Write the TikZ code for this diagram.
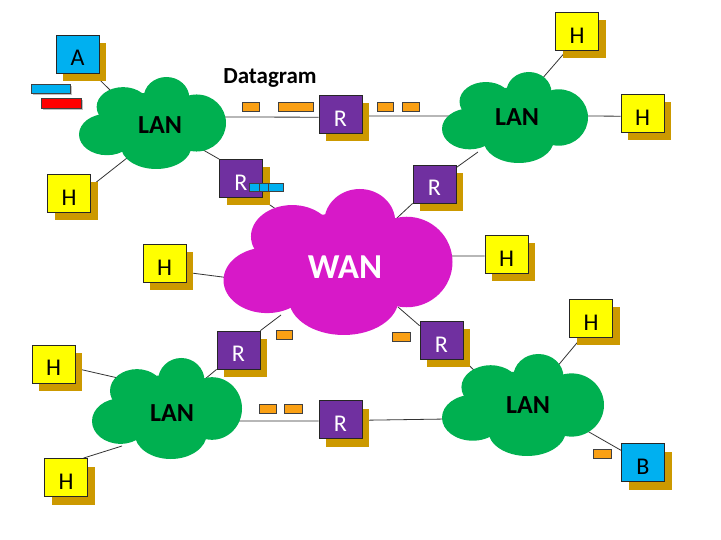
\documentclass[tikz,border=0pt]{standalone}
\usepackage{fontspec}
\setmainfont{Carlito}
\usetikzlibrary{shadows}
\definecolor{hyel}{RGB}{255,255,0}
\definecolor{hblue}{RGB}{0,176,240}
\definecolor{rpurp}{RGB}{112,48,160}
\definecolor{shad}{RGB}{204,153,0}
\definecolor{lang}{RGB}{0,176,80}
\definecolor{wanm}{RGB}{215,25,200}
\definecolor{pkto}{RGB}{250,160,20}
\pgfdeclarelayer{bg}
\pgfsetlayers{bg,main}
\newcommand\cloudfill[5]{%
  \begin{scope}[shift={(#1,#2)},xscale=#3,yscale=#4]
    \fill[#5] (0.19,-0.55) ellipse [x radius=0.31, y radius=0.45];
    \fill[#5] (-0.4,-0.35) ellipse [x radius=0.36, y radius=0.43];
    \fill[#5] (-0.62,0.25) ellipse [x radius=0.38, y radius=0.45];
    \fill[#5] (0.05,0.5) ellipse [x radius=0.48, y radius=0.5];
    \fill[#5] (0.6,0.0) ellipse [x radius=0.4, y radius=0.62];
    \fill[#5] (0.0,0.0) ellipse [x radius=0.72, y radius=0.66];
  \end{scope}}
\begin{document}
\begin{tikzpicture}[x=1pt,y=-1pt,
  box/.style={minimum width=43pt, minimum height=38pt, inner sep=0pt, draw=black!85, line width=0.8pt,
    font=\fontsize{24}{28}\selectfont, text height=24pt, text depth=0pt,
    drop shadow={shadow xshift=7pt, shadow yshift=-8pt, fill=shad, opacity=1}},
  hbox/.style={box, fill=hyel, text=black},
  abox/.style={box, fill=hblue, text=black},
  rbox/.style={box, fill=rpurp, text=white},
  cloudlabel/.style={font=\fontsize{26}{30}\selectfont\bfseries, text=black, inner sep=0pt},
  link/.style={draw=black!80, line width=0.8pt},
  pkt/.style={fill=pkto, draw=black!75, line width=0.6pt},
  bpkt/.style={fill=hblue, draw=black!75, line width=0.6pt},
  rpkt/.style={fill=red, draw=black!75, line width=0.6pt},
  pshadow/.style={fill=black!25}]
\useasboundingbox (0,0) rectangle (721,540);

% clouds
\cloudfill{152.5}{123}{73.5}{46}{lang}
\node[cloudlabel] (lan1) at (160,125) {LAN};
\cloudfill{515}{117.5}{73}{45.5}{lang}
\node[cloudlabel] (lan2) at (517,117) {LAN};
\cloudfill{338}{262}{114.5}{73}{wanm}
\node[cloudlabel, text=white, font=\fontsize{35}{40}\selectfont\bfseries] (wan) at (345,267) {WAN};
\cloudfill{167}{408.5}{75}{50.5}{lang}
\node[cloudlabel] (lan3) at (172,413) {LAN};
\cloudfill{523}{405}{81}{51}{lang}
\node[cloudlabel] (lan4) at (528,405) {LAN};

% boxes
\node[abox] (a) at (77.5,54) {A};
\node[hbox] (htl) at (69,193.5) {H};
\node[rbox] (rtop) at (340.5,114.5) {R};
\node[hbox] (htr1) at (577,31.5) {H};
\node[hbox] (htr2) at (642.5,113.5) {H};
\node[rbox] (rul) at (241,178.5) {R};
\node[rbox] (rur) at (434.5,184) {R};
\node[hbox] (hwl) at (164.5,263.5) {H};
\node[hbox] (hwr) at (506.5,254.5) {H};
\node[rbox] (rll) at (238.5,350) {R};
\node[rbox] (rlr) at (441.5,340.5) {R};
\node[hbox] (hl3a) at (53.5,364) {H};
\node[hbox] (hl3b) at (66,477.5) {H};
\node[rbox] (rlm) at (340.5,419.5) {R};
\node[hbox] (hlr) at (591,318.5) {H};
\node[abox] (b) at (643,462.5) {B};

% datagram label
\node[font=\fontsize{23}{27}\selectfont\bfseries] (dg) at (270,78) {Datagram};

% packets
\fill[pshadow] (33,86) rectangle (72,95);
\draw[bpkt] (31,84) rectangle (70,93);
\fill[pshadow] (43,100) rectangle (83,110);
\draw[rpkt] (41,98) rectangle (81,108);
\draw[bpkt] (249,183) rectangle (259,191);
\draw[bpkt] (259,183) rectangle (268,191);
\draw[bpkt] (268,183) rectangle (283,191);
\draw[pkt] (242,102) rectangle (259,111);
\draw[pkt] (278,102) rectangle (313,111);
\draw[pkt] (377,102) rectangle (393,111);
\draw[pkt] (402,102) rectangle (419,111);
\draw[pkt] (276,330) rectangle (292,339);
\draw[pkt] (392,332) rectangle (410,341);
\draw[pkt] (259,404) rectangle (276,413);
\draw[pkt] (284,404) rectangle (302,413);
\draw[pkt] (593,449) rectangle (611,458);

% connector end points on clouds
\coordinate (l1a) at (114,94);
\coordinate (l1h) at (127,158);
\coordinate (l1r) at (222,117);
\coordinate (l1u) at (198,147);
\coordinate (l2r) at (450,116);
\coordinate (l2h1) at (541,80);
\coordinate (l2h2) at (584,116);
\coordinate (l2u) at (478,152);
\coordinate (wul) at (283,214);
\coordinate (wur) at (397,218);
\coordinate (whl) at (230,278);
\coordinate (whr) at (449,256);
\coordinate (wll) at (281,315);
\coordinate (wlr) at (398,307);
\coordinate (l3r) at (205,379);
\coordinate (l3ha) at (118,378);
\coordinate (l3hb) at (122,446);
\coordinate (l3m) at (236,421);
\coordinate (l4m) at (447,419);
\coordinate (l4r) at (479,375);
\coordinate (l4h) at (556,368);
\coordinate (l4b) at (582,428);

\begin{pgfonlayer}{bg}
\draw[link] (a.-51) -- (l1a);
\draw[link] (htl.18) -- (l1h);
\draw[link] (rtop.187) -- (l1r);
\draw[link] (rtop.-4) -- (l2r);
\draw[link] (rul.north west) -- (l1u);
\draw[link] (rul.-46) -- (wul);
\draw[link] (htr1.241) -- (l2h1);
\draw[link] (htr2.187) -- (l2h2);
\draw[link] (rur.37) -- (l2u);
\draw[link] (rur.south west) -- (wur);
\draw[link] (hwl.-22) -- (whl);
\draw[link] (hwr.184) -- (whr);
\draw[link] (rll.north east) -- (wll);
\draw[link] (rll.south west) -- (l3r);
\draw[link] (rlr.146) -- (wlr);
\draw[link] (rlr.south east) -- (l4r);
\draw[link] (hl3a.-11) -- (l3ha);
\draw[link] (hl3b.48) -- (l3hb);
\draw[link] (rlm.184) -- (l3m);
\draw[link] (rlm.-2) -- (l4m);
\draw[link] (hlr.243) -- (l4h);
\draw[link] (b.151) -- (l4b);
\end{pgfonlayer}
\end{tikzpicture}
\end{document}
